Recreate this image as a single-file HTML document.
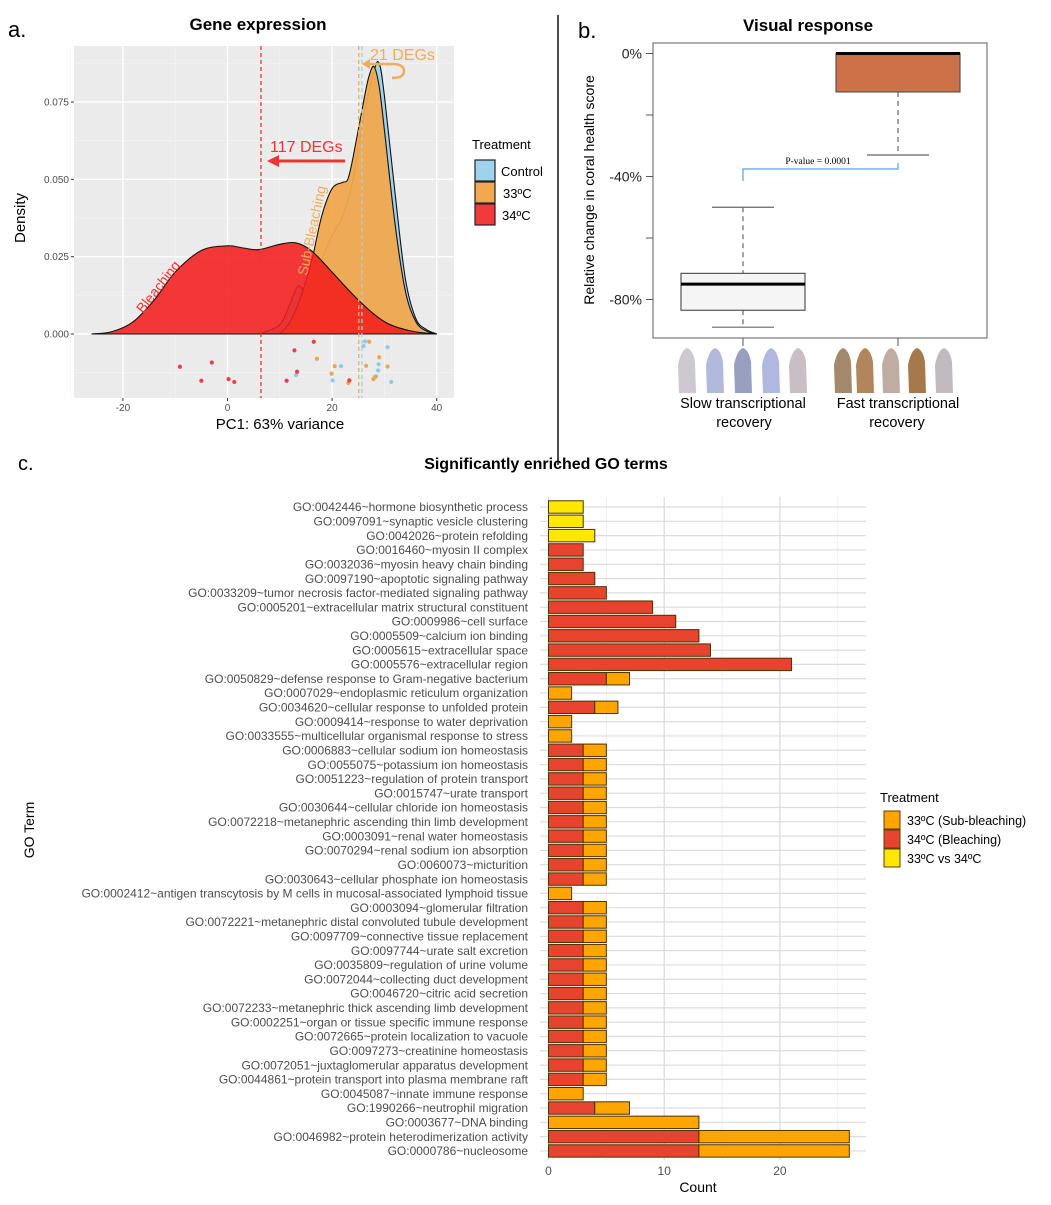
<!DOCTYPE html>
<html><head><meta charset="utf-8"><style>
html,body{margin:0;padding:0;background:#fff}
svg text{font-family:"Liberation Sans",Arial,sans-serif}
</style></head><body>
<svg id="fig" width="1051" height="1200" viewBox="0 0 1051 1200" xmlns="http://www.w3.org/2000/svg">
<g id="pa">
  <text x="8" y="37" font-size="22">a.</text>
  <text x="258" y="30" font-size="17" font-weight="bold" text-anchor="middle">Gene expression</text>
  <rect x="74" y="46" width="380" height="352" fill="#ebebeb"/>
  <g id="pa-grid"></g>
  <g id="pa-marks"></g>
  <g id="pa-axes"></g>
  <text x="280" y="429" font-size="15" text-anchor="middle">PC1: 63% variance</text>
  <text transform="translate(25,218) rotate(-90)" font-size="15" text-anchor="middle">Density</text>
  <text x="270" y="152" font-size="16" fill="#f03434">117 DEGs</text>
  <line x1="345" y1="161" x2="276" y2="161" stroke="#f03434" stroke-width="3"/>
  <polygon points="267,161 279,155 279,167" fill="#f03434"/>
  <text x="370" y="60" font-size="16" fill="#f2ab5b">21 DEGs</text>
  <path d="M368,64 L392,64 Q404,64 404,71 Q404,78 392,78" fill="none" stroke="#f2ab5b" stroke-width="2.5"/>
  <polygon points="362,64 370,59 370,69" fill="#f2ab5b"/>
  <text transform="translate(143,314) rotate(-52)" font-size="14" fill="#f03434">Bleaching</text>
  <text transform="translate(307,276) rotate(-78)" font-size="14" fill="#f2ab5b">Sub-Bleaching</text>
  <g>
    <text x="472" y="149" font-size="13">Treatment</text>
    <rect x="475" y="160" width="20" height="21" fill="#9fd2ec" stroke="#222" stroke-width="1.2"/>
    <text x="501" y="176" font-size="13">Control</text>
    <rect x="475" y="182" width="20" height="21" fill="#f1a84f" stroke="#222" stroke-width="1.2"/>
    <text x="503" y="198" font-size="13">33ºC</text>
    <rect x="475" y="204" width="20" height="21" fill="#f33a3a" stroke="#222" stroke-width="1.2"/>
    <text x="502" y="220" font-size="13">34ºC</text>
  </g>
</g>
<line x1="558" y1="15" x2="558" y2="465" stroke="#111" stroke-width="1.5"/>
<g id="pb">
  <text x="578" y="38" font-size="22">b.</text>
  <text x="808" y="31" font-size="17" font-weight="bold" text-anchor="middle">Visual response</text>
  <rect x="653" y="43" width="334" height="295" fill="#fff" stroke="#777" stroke-width="1.2"/>
  <g id="pb-marks"></g>
  <text transform="translate(594,190) rotate(-90)" font-size="14" text-anchor="middle">Relative change in coral health score</text>
  <g id="pb-corals"></g>
  <text x="743" y="408" font-size="14.5" text-anchor="middle">Slow transcriptional</text>
  <text x="744" y="427" font-size="14.5" text-anchor="middle">recovery</text>
  <text x="898" y="408" font-size="14.5" text-anchor="middle">Fast transcriptional</text>
  <text x="897" y="427" font-size="14.5" text-anchor="middle">recovery</text>
</g>
<g id="pc">
  <text x="18" y="470" font-size="20">c.</text>
  <text x="546" y="469" font-size="16" font-weight="bold" text-anchor="middle">Significantly enriched GO terms</text>
  <g id="pc-grid"></g>
  <g id="pc-marks"></g>
  <text x="698" y="1192" font-size="14" text-anchor="middle">Count</text>
  <text transform="translate(34,830) rotate(-90)" font-size="14" text-anchor="middle">GO Term</text>
  <g>
    <text x="880" y="802" font-size="13">Treatment</text>
    <rect x="884" y="811" width="16" height="18" fill="#ffa500" stroke="#5a4000"/>
    <text x="907" y="825" font-size="12.5">33ºC (Sub-bleaching)</text>
    <rect x="884" y="830" width="16" height="18" fill="#e8432f" stroke="#5a4000"/>
    <text x="907" y="844" font-size="12.5">34ºC (Bleaching)</text>
    <rect x="884" y="849" width="16" height="18" fill="#ffe800" stroke="#5a4000"/>
    <text x="907" y="863" font-size="12.5">33ºC vs 34ºC</text>
  </g>
</g>
</svg>
<script>
// ---------- Panel A data ----------
const aXTicks = [-20, 0, 20, 40];
const aYTicks = [0, 0.025, 0.05, 0.075];
const aYTickLabels = ["0.000", "0.025", "0.050", "0.075"];
const ctrlX = [6, 10, 12, 13.5, 15, 17, 20, 22, 24, 26, 28, 29, 30, 32, 34, 36, 38, 40];
const ctrlY = [0, 0.003, 0.01, 0.0155, 0.014, 0.02, 0.032, 0.038, 0.05, 0.07, 0.085, 0.0875, 0.077, 0.046, 0.018, 0.005, 0.0015, 0];
const t33X = [10, 12, 14, 16, 18, 20, 22, 23, 24, 26, 27, 28, 29, 30, 32, 34, 36, 38, 40];
const t33Y = [0, 0.004, 0.012, 0.023, 0.038, 0.047, 0.049, 0.05, 0.057, 0.075, 0.083, 0.0865, 0.08, 0.066, 0.036, 0.014, 0.004, 0.001, 0];
const t34X = [-26, -22, -18, -14, -10, -5, 0, 3, 6, 10, 13, 16, 20, 25, 30, 35, 40];
const t34Y = [0, 0.0008, 0.004, 0.011, 0.02, 0.027, 0.0285, 0.0278, 0.0273, 0.029, 0.0295, 0.027, 0.02, 0.011, 0.004, 0.001, 0];
const ptsRedX = [-9.1, -5.0, -3.0, 0.2, 1.3, 11.3, 12.8, 13.3, 16.5, 23.3];
const ptsRedY = [-0.0106, -0.0151, -0.0092, -0.0146, -0.0155, -0.0151, -0.0053, -0.0122, -0.0025, -0.015];
const ptsOrX = [17.1, 20.5, 19.9, 23.1, 27.1, 26.5, 29.0, 30.6, 27.9, 28.2];
const ptsOrY = [-0.008, -0.0104, -0.0128, -0.0158, -0.0025, -0.0103, -0.0075, -0.0105, -0.0146, -0.0139];
const ptsBlX = [13.1, 20.1, 21.7, 26.3, 26.0, 30.6, 28.9, 28.8, 28.4, 31.3];
const ptsBlY = [-0.0133, -0.015, -0.0104, -0.0024, -0.0039, -0.0043, -0.0098, -0.0118, -0.0137, -0.0155];
const meanLines = [6.4, 25.1, 25.7];

// ---------- Panel B data ----------
const bCategories = ["Slow transcriptional recovery", "Fast transcriptional recovery"];
const bWhiskerHigh = [-50, 0];
const bQ3 = [-71.5, 0];
const bMedian = [-75, 0];
const bQ1 = [-83.5, -12.5];
const bWhiskerLow = [-89, -33];
const bYTicks = [0, -20, -40, -60, -80];
const bYTickLabels = ["0%", "", "-40%", "", "-80%"];
const bPValueText = "P-value = 0.0001";

// ---------- Panel C data ----------
const goTerms = [
"GO:0042446~hormone biosynthetic process","GO:0097091~synaptic vesicle clustering","GO:0042026~protein refolding","GO:0016460~myosin II complex","GO:0032036~myosin heavy chain binding","GO:0097190~apoptotic signaling pathway","GO:0033209~tumor necrosis factor-mediated signaling pathway","GO:0005201~extracellular matrix structural constituent","GO:0009986~cell surface","GO:0005509~calcium ion binding","GO:0005615~extracellular space","GO:0005576~extracellular region","GO:0050829~defense response to Gram-negative bacterium","GO:0007029~endoplasmic reticulum organization","GO:0034620~cellular response to unfolded protein","GO:0009414~response to water deprivation","GO:0033555~multicellular organismal response to stress","GO:0006883~cellular sodium ion homeostasis","GO:0055075~potassium ion homeostasis","GO:0051223~regulation of protein transport","GO:0015747~urate transport","GO:0030644~cellular chloride ion homeostasis","GO:0072218~metanephric ascending thin limb development","GO:0003091~renal water homeostasis","GO:0070294~renal sodium ion absorption","GO:0060073~micturition","GO:0030643~cellular phosphate ion homeostasis","GO:0002412~antigen transcytosis by M cells in mucosal-associated lymphoid tissue","GO:0003094~glomerular filtration","GO:0072221~metanephric distal convoluted tubule development","GO:0097709~connective tissue replacement","GO:0097744~urate salt excretion","GO:0035809~regulation of urine volume","GO:0072044~collecting duct development","GO:0046720~citric acid secretion","GO:0072233~metanephric thick ascending limb development","GO:0002251~organ or tissue specific immune response","GO:0072665~protein localization to vacuole","GO:0097273~creatinine homeostasis","GO:0072051~juxtaglomerular apparatus development","GO:0044861~protein transport into plasma membrane raft","GO:0045087~innate immune response","GO:1990266~neutrophil migration","GO:0003677~DNA binding","GO:0046982~protein heterodimerization activity","GO:0000786~nucleosome"];
const countBleaching = [0,0,0,3,3,4,5,9,11,13,14,21,5,0,4,0,0,3,3,3,3,3,3,3,3,3,3,0,3,3,3,3,3,3,3,3,3,3,3,3,3,0,4,0,13,13];
const countSubBleaching = [0,0,0,0,0,0,0,0,0,0,0,0,2,2,2,2,2,2,2,2,2,2,2,2,2,2,2,2,2,2,2,2,2,2,2,2,2,2,2,2,2,3,3,13,13,13];
const countCompare = [3,3,4,0,0,0,0,0,0,0,0,0,0,0,0,0,0,0,0,0,0,0,0,0,0,0,0,0,0,0,0,0,0,0,0,0,0,0,0,0,0,0,0,0,0,0];
const cXTicks = [0, 10, 20];
const cXMinor = [5, 15, 25];

const NS = "http://www.w3.org/2000/svg";
function mk(tag, attrs, parent) {
  const e = document.createElementNS(NS, tag);
  for (const k in attrs) e.setAttribute(k, attrs[k]);
  parent.appendChild(e);
  return e;
}
function smoothPath(pts) {
  let d = "M" + pts[0][0] + "," + pts[0][1];
  for (let i = 0; i < pts.length - 1; i++) {
    const p0 = pts[i - 1] || pts[i], p1 = pts[i], p2 = pts[i + 1], p3 = pts[i + 2] || p2;
    const c1x = p1[0] + (p2[0] - p0[0]) / 6, c1y = p1[1] + (p2[1] - p0[1]) / 6;
    const c2x = p2[0] - (p3[0] - p1[0]) / 6, c2y = p2[1] - (p3[1] - p1[1]) / 6;
    d += " C" + c1x.toFixed(1) + "," + c1y.toFixed(1) + " " + c2x.toFixed(1) + "," + c2y.toFixed(1) + " " + p2[0].toFixed(1) + "," + p2[1].toFixed(1);
  }
  return d;
}

// ----- Panel A drawing -----
const ax = v => 227.5 + v * 5.23;
const ay = v => 334 - v * 3093;
const PT = 46, PB = 398;
const gA = document.getElementById("pa-grid");
[-30,-10,10,30].forEach(v => { const l = mk("line", {x1: ax(v), x2: ax(v), y1: PT, y2: PB, stroke: "#f5f5f5", "stroke-width": 0.7}, gA);
    });
[-0.0125, 0.0125, 0.0375, 0.0625, 0.0875].forEach(v => { const l = mk("line", {x1: 74, x2: 454, y1: ay(v), y2: ay(v), stroke: "#f5f5f5", "stroke-width": 0.7}, gA);
    });
aXTicks.forEach(v => { const l = mk("line", {x1: ax(v), x2: ax(v), y1: PT, y2: PB, stroke: "#fff", "stroke-width": 1.4}, gA);
    });
aYTicks.forEach(v => { const l = mk("line", {x1: 74, x2: 454, y1: ay(v), y2: ay(v), stroke: "#fff", "stroke-width": 1.4}, gA);
    });
const gAM = document.getElementById("pa-marks");
function density(xs, ys, fill, op, name) {
  const pts = xs.map((x, i) => [ax(x), ay(ys[i])]);
  const d = smoothPath(pts) + " Z";
  const p = mk("path", {d: d, fill: fill, "fill-opacity": op, stroke: "#111", "stroke-width": 1.1}, gAM);
  
  
}
density(ctrlX, ctrlY, "#9fd2ec", 1, "density-control");
density(t33X, t33Y, "#f1a84f", 0.95, "density-33c");
density(t34X, t34Y, "#f41e1e", 0.88, "density-34c");
const lineCols = ["#f03434", "#f2ab5b", "#9fd2ec"];
meanLines.forEach((v, i) => { const l = mk("line", {x1: ax(v), x2: ax(v), y1: PT, y2: PB, stroke: lineCols[i], "stroke-width": 1.3, "stroke-dasharray": "4,3"}, gAM);
    });
function pts(xs, ys, col, name) {
  xs.forEach((x, i) => { const c = mk("circle", {cx: ax(x), cy: ay(ys[i]), r: 2.1, fill: col}, gAM);
      });
}
pts(ptsBlX, ptsBlY, "#8ecae8", "sample-point-control");
pts(ptsOrX, ptsOrY, "#eea54e", "sample-point-33c");
pts(ptsRedX, ptsRedY, "#e8404a", "sample-point-34c");
const gAA = document.getElementById("pa-axes");
aXTicks.forEach(v => {
  const l = mk("line", {x1: ax(v), x2: ax(v), y1: PB, y2: PB + 3, stroke: "#333"}, gAA);
   
  const t = mk("text", {x: ax(v), y: PB + 13, "font-size": 10, fill: "#4d4d4d", "text-anchor": "middle"}, gAA);
  t.textContent = v;
   
});
aYTicks.forEach((v, i) => {
  const l = mk("line", {x1: 71, x2: 74, y1: ay(v), y2: ay(v), stroke: "#333"}, gAA);
   
  const t = mk("text", {x: 69, y: ay(v) + 3.5, "font-size": 10, fill: "#4d4d4d", "text-anchor": "end"}, gAA);
  t.textContent = aYTickLabels[i];
   
});

// ----- Panel B drawing -----
const by = v => 53.5 - v * 3.075;
const bCenters = [743, 898];
const bFill = ["#f5f5f5", "#cd7149"];
const gB = document.getElementById("pb-marks");
bYTicks.forEach((v, i) => {
  const l = mk("line", {x1: 646, x2: 653, y1: by(v), y2: by(v), stroke: "#555"}, gB);
   
  if (bYTickLabels[i]) {
    const t = mk("text", {x: 642, y: by(v) + 5, "font-size": 14, fill: "#222", "text-anchor": "end"}, gB);
    t.textContent = bYTickLabels[i];
     
  }
});
bCategories.forEach((c, i) => {
  const cx = bCenters[i];
  const l = mk("line", {x1: cx, x2: cx, y1: 338, y2: 346, stroke: "#555"}, gB);
   
  const w1 = mk("line", {x1: cx, x2: cx, y1: by(bWhiskerHigh[i]), y2: by(bQ3[i]), stroke: "#666", "stroke-dasharray": "5,4", "stroke-width": 1.2}, gB);
   
  const w2 = mk("line", {x1: cx, x2: cx, y1: by(bQ1[i]), y2: by(bWhiskerLow[i]), stroke: "#666", "stroke-dasharray": "5,4", "stroke-width": 1.2}, gB);
   
  const c1 = mk("line", {x1: cx - 31, x2: cx + 31, y1: by(bWhiskerHigh[i]), y2: by(bWhiskerHigh[i]), stroke: "#666", "stroke-width": 1.2}, gB);
   
  const c2 = mk("line", {x1: cx - 31, x2: cx + 31, y1: by(bWhiskerLow[i]), y2: by(bWhiskerLow[i]), stroke: "#666", "stroke-width": 1.2}, gB);
   
  const r = mk("rect", {x: cx - 62, width: 124, y: by(bQ3[i]), height: by(bQ1[i]) - by(bQ3[i]), fill: bFill[i], stroke: "#555", "stroke-width": 1.2}, gB);
  
  
  const m = mk("line", {x1: cx - 62, x2: cx + 62, y1: by(bMedian[i]), y2: by(bMedian[i]), stroke: "#000", "stroke-width": 3}, gB);
   
});
const br = mk("path", {d: "M743,181 V169 H898 V163", fill: "none", stroke: "#4aa8e0", "stroke-width": 1.2}, gB);
 
const pt = mk("text", {x: 818, y: 164, "font-size": 9.5, "text-anchor": "middle", style: "font-family:'Liberation Serif',serif"}, gB);
pt.textContent = bPValueText;
 
const gC = document.getElementById("pb-corals");
const coralCols = ["#c9c3cc","#a9b3d8","#8d95b8","#a7b0db","#c2b7bd","#9a7b5c","#a8794a","#b8a49a","#9c6a3a","#bdb2b8"];
const coralX = [687,715,743,771,798,843,865,891,917,944];
coralX.forEach((x, i) => {
  const p = mk("path", {d: `M${x-8},393 L${x-9},365 Q${x-6},350 ${x},348 Q${x+6},350 ${x+8},362 L${x+9},393 Z`, fill: coralCols[i], opacity: 0.9}, gC);
   
});

// ----- Panel C drawing -----
const cx0 = 548.5, cu = 11.57;
const cxs = v => cx0 + v * cu;
const rowY = i => 507 + i * 14.31;
const gCG = document.getElementById("pc-grid");
cXMinor.forEach(v => { const l = mk("line", {x1: cxs(v), x2: cxs(v), y1: 497, y2: 1160, stroke: "#ececec", "stroke-width": 0.8}, gCG);
    });
cXTicks.forEach(v => { const l = mk("line", {x1: cxs(v), x2: cxs(v), y1: 497, y2: 1160, stroke: "#d9d9d9", "stroke-width": 1.2}, gCG);
   
  const t = mk("text", {x: cxs(v), y: 1175, "font-size": 12, fill: "#4d4d4d", "text-anchor": "middle"}, gCG);
  t.textContent = v;
    });
goTerms.forEach((g, i) => {
  const l = mk("line", {x1: 540, x2: 866, y1: rowY(i), y2: rowY(i), stroke: "#dcdcdc", "stroke-width": 1.2}, gCG);
   
  const t = mk("text", {x: 528, y: rowY(i) + 4.2, "font-size": 12, fill: "#4d4d4d", "text-anchor": "end"}, gCG);
  t.textContent = g;
   
});
const gCM = document.getElementById("pc-marks");
function bar(v0, v1, i, col, name) {
  if (v1 <= v0) return;
  const r = mk("rect", {x: cxs(v0), y: rowY(i) - 6.2, width: cxs(v1) - cxs(v0), height: 12.4, fill: col, stroke: "#4a3300", "stroke-width": 1}, gCM);
  
  
}
goTerms.forEach((g, i) => {
  bar(0, countBleaching[i], i, "#e8432f", "bar-bleaching");
  bar(countBleaching[i], countBleaching[i] + countSubBleaching[i], i, "#ffa500", "bar-sub-bleaching");
  const s = countBleaching[i] + countSubBleaching[i];
  bar(s, s + countCompare[i], i, "#ffe800", "bar-33-vs-34");
});
</script>
</body></html>
